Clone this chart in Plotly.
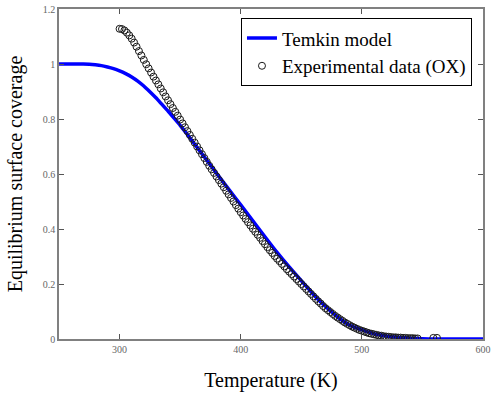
import plotly.graph_objects as go

# Temkin model curve
model_T = [250, 260, 270, 275, 280, 285, 290, 295, 300, 305, 310, 315, 320, 325, 330,
           335, 340, 345, 350, 355, 360, 370, 380, 390, 400, 410, 420, 430, 440, 450,
           460, 470, 480, 490, 500, 510, 520, 530, 540, 550, 560, 570, 580, 590, 600]
model_theta = [1.000, 1.000, 1.000, 0.999, 0.997, 0.994, 0.989, 0.983, 0.975, 0.965,
               0.953, 0.938, 0.920, 0.899, 0.877, 0.853, 0.829, 0.803, 0.777, 0.749,
               0.720, 0.662, 0.603, 0.545, 0.488, 0.430, 0.372, 0.315, 0.262, 0.212,
               0.162, 0.118, 0.080, 0.050, 0.033, 0.019, 0.011, 0.006, 0.003, 0.001,
               0.000, 0.000, 0.000, 0.000, 0.000]

# Experimental data (OX)
exp_T = [300, 302, 304, 306, 308, 310, 312, 314, 316, 318, 320, 322, 324, 326, 328,
         330, 332, 334, 336, 338, 340, 342, 344, 346, 348, 350, 352, 354, 356, 358,
         360, 362, 364, 366, 368, 370, 372, 374, 376, 378, 380, 382, 384, 386, 388,
         390, 392, 394, 396, 398, 400, 402, 404, 406, 408, 410, 412, 414, 416, 418,
         420, 422, 424, 426, 428, 430, 432, 434, 436, 438, 440, 442, 444, 446, 448,
         450, 452, 454, 456, 458, 460, 462, 464, 466, 468, 470, 472, 474, 476, 478,
         480, 482, 484, 486, 488, 490, 492, 494, 496, 498, 500, 502, 504, 506, 508,
         510, 512, 514, 516, 518, 520, 522, 524, 526, 528, 530, 532, 534, 536, 538,
         540, 542, 544, 546, 559, 562]
exp_theta = [1.128, 1.127, 1.122, 1.114, 1.104, 1.092, 1.078, 1.063, 1.047, 1.031,
             1.015, 0.999, 0.984, 0.969, 0.954, 0.940, 0.926, 0.911, 0.897, 0.882,
             0.868, 0.854, 0.840, 0.826, 0.812, 0.798, 0.784, 0.770, 0.756, 0.742,
             0.728, 0.714, 0.700, 0.686, 0.672, 0.658, 0.644, 0.630, 0.617, 0.604,
             0.591, 0.578, 0.565, 0.552, 0.539, 0.526, 0.513, 0.500, 0.487, 0.474,
             0.461, 0.449, 0.437, 0.425, 0.413, 0.401, 0.390, 0.379, 0.368, 0.356,
             0.345, 0.334, 0.323, 0.313, 0.302, 0.292, 0.283, 0.273, 0.264, 0.254,
             0.245, 0.236, 0.227, 0.218, 0.209, 0.200, 0.191, 0.182, 0.173, 0.164,
             0.155, 0.146, 0.137, 0.129, 0.120, 0.112, 0.105, 0.098, 0.091, 0.084,
             0.078, 0.072, 0.066, 0.060, 0.055, 0.050, 0.045, 0.041, 0.037, 0.033,
             0.030, 0.027, 0.024, 0.021, 0.019, 0.017, 0.015, 0.013, 0.012, 0.010,
             0.009, 0.008, 0.007, 0.006, 0.006, 0.005, 0.005, 0.004, 0.004, 0.003,
             0.003, 0.003, 0.002, 0.002, 0.004, 0.004]

x_ticks = [300, 400, 500, 600]
y_ticks = [0, 0.2, 0.4, 0.6, 0.8, 1.0, 1.2]
y_tick_labels = ["0", "0.2", "0.4", "0.6", "0.8", "1", "1.2"]

serif = "Liberation Serif, Times New Roman, serif"

fig = go.Figure()
fig.add_trace(go.Scatter(
    x=model_T, y=model_theta, mode="lines", name="Temkin model",
    line=dict(color="#0000FF", width=3.5, shape="spline", smoothing=0.5),
))
fig.add_trace(go.Scatter(
    x=exp_T, y=exp_theta, mode="markers", name="Experimental data (OX)",
    marker=dict(symbol="circle-open", size=7, color="#1a1a1a", line=dict(width=1)),
))

axis_common = dict(
    showline=True, linecolor="#808080", linewidth=1.5, mirror="ticks",
    ticks="inside", ticklen=5, tickcolor="#555555", tickwidth=1,
    showgrid=False, zeroline=False, automargin=False,
    tickfont=dict(family=serif, size=10, color="#666666"),
)

fig.update_layout(
    width=500, height=397,
    margin=dict(l=59, r=17, t=9, b=58),
    paper_bgcolor="white", plot_bgcolor="white",
    showlegend=True,
    legend=dict(
        x=0.974, y=0.972, xanchor="right", yanchor="top",
        bordercolor="#000000", borderwidth=1, bgcolor="white",
        font=dict(family=serif, size=19, color="black"),
        tracegroupgap=0, itemwidth=30,
    ),
    xaxis=dict(
        range=[250, 600], tickvals=x_ticks,
        title=dict(text="Temperature (K)", font=dict(family=serif, size=20, color="black"), standoff=19),
        **axis_common,
    ),
    yaxis=dict(
        range=[0, 1.2], tickvals=y_ticks, ticktext=y_tick_labels,
        ticklabelstandoff=0,
        title=dict(text="Equilibrium surface coverage", font=dict(family=serif, size=20, color="black"), standoff=15),
        **axis_common,
    ),
)

fig.write_html("out.html", config={"displayModeBar": False},
               post_script="document.body.style.margin='0';document.body.style.padding='0';")
